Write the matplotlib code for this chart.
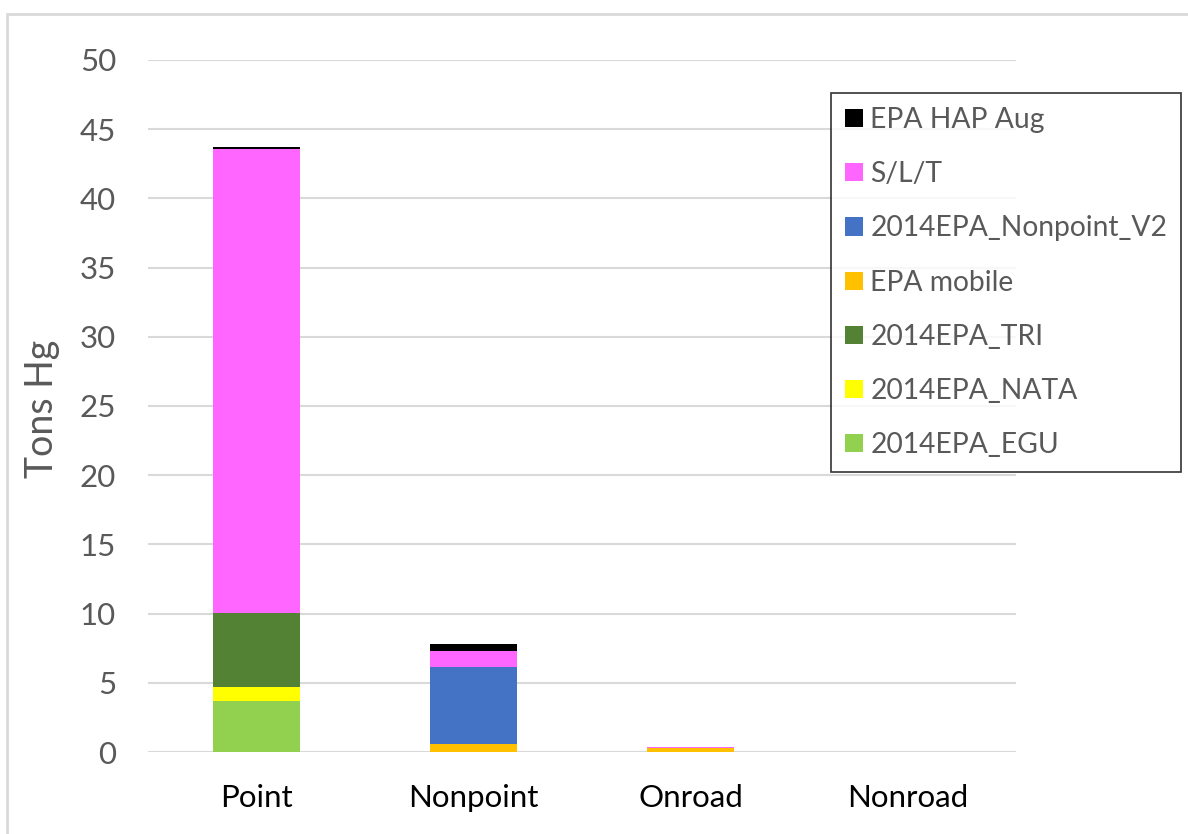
import numpy as np
import matplotlib.pyplot as plt
from matplotlib.patches import Rectangle

plt.rcParams['font.family'] = ['Lato', 'DejaVu Sans']

# --- Data (tons Hg by data category) ---
categories = ['Point', 'Nonpoint', 'Onroad', 'Nonroad']
series_names = ['2014EPA_EGU', '2014EPA_NATA', '2014EPA_TRI', 'EPA mobile',
                '2014EPA_Nonpoint_V2', 'S/L/T', 'EPA HAP Aug']
egu = [3.7, 0.0, 0.0, 0.0]
nata = [1.0, 0.0, 0.0, 0.0]
tri = [5.35, 0.0, 0.0, 0.0]
mobile = [0.0, 0.55, 0.3, 0.0]
nonpoint_v2 = [0.0, 5.6, 0.0, 0.0]
slt = [33.5, 1.15, 0.06, 0.0]
hap_aug = [0.15, 0.5, 0.0, 0.0]
series_values = [egu, nata, tri, mobile, nonpoint_v2, slt, hap_aug]
colors = ['#92D050', '#FFFF00', '#548235', '#FFC000', '#4472C4', '#FF66FF', '#000000']

# --- Figure ---
fig = plt.figure(figsize=(11.88, 8.34), dpi=100)
ax = fig.add_axes([0.1246, 0.0983, 0.7306, 0.8298])

x = np.arange(len(categories))
bottom = np.zeros(len(categories))
handles = []
for name, vals, col in zip(series_names, series_values, colors):
    vals = np.array(vals)
    b = ax.bar(x, vals, width=0.405, bottom=bottom, color=col, label=name,
               linewidth=0, zorder=3)
    handles.append(b)
    bottom += vals

ax.set_xlim(-0.5, len(categories) - 0.5)
ax.set_ylim(0, 50)
ax.set_yticks(np.arange(0, 51, 5))
ax.set_xticks(x)
ax.set_xticklabels(categories)
ax.tick_params(axis='y', length=0, pad=23, labelsize=22.5, labelcolor='#595959')
ax.tick_params(axis='x', length=0, pad=23, labelsize=22.5, labelcolor='black')
ax.grid(axis='y', color='#D9D9D9', linewidth=1.5, zorder=0)
for s in ax.spines.values():
    s.set_visible(False)

fig.text(0.035, 0.51, 'Tons Hg', rotation=90, fontsize=27, color='#595959',
         ha='center', va='center')

# legend, reversed order like the reference
leg = fig.legend(handles[::-1], series_names[::-1], loc='upper left',
                 bbox_to_anchor=(0.6995, 0.8885), fontsize=20.3,
                 frameon=True, fancybox=False, edgecolor='black',
                 handlelength=0.62, handleheight=0.62, handletextpad=0.28,
                 labelspacing=1.0, borderpad=0.5, borderaxespad=0)
leg.get_frame().set_linewidth(1.2)
for t in leg.get_texts():
    t.set_color('#595959')

# outer chart border (top/left edge visible)
fig.add_artist(Rectangle((7 / 1188, -0.1), 1.2, 1 - 14 / 834 + 0.1,
                         transform=fig.transFigure, fill=False,
                         edgecolor='#D9D9D9', linewidth=2))

fig.savefig('out.png', dpi=100)
